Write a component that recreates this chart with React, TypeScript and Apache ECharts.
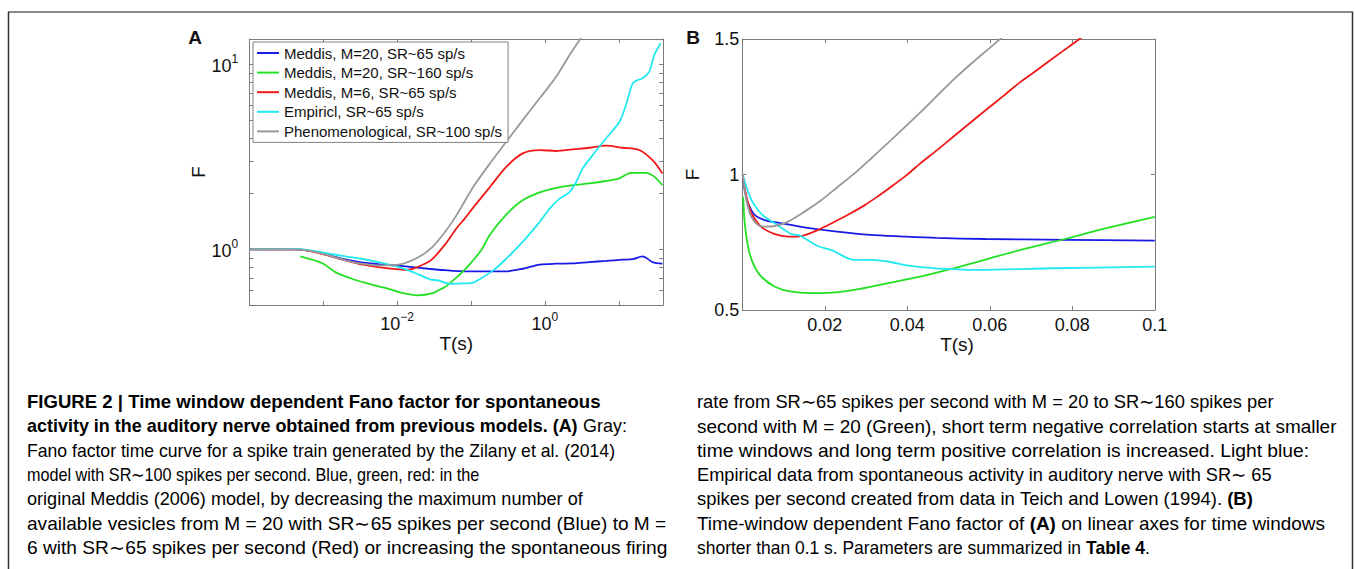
import React, { useEffect, useRef } from 'react';
import * as echarts from 'echarts';

const FONT = "'Liberation Sans', Arial, Helvetica, sans-serif";

const seriesNames = [
  'Meddis, M=20, SR~65 sp/s',
  'Meddis, M=20, SR~160 sp/s',
  'Meddis, M=6, SR~65 sp/s',
  'Empiricl, SR~65 sp/s',
  'Phenomenological, SR~100 sp/s',
];
const seriesColors = ['#1a1ae6', '#22e022', '#f01818', '#22e8f0', '#999999'];

// Panel A: [T (s), F] on log-log axes
const blueA = [[0.0001,1.0],[0.00042,1.0],[0.00071,0.977],[0.00132,0.918],[0.002,0.881],[0.0033,0.849],[0.0056,0.832],[0.0094,0.818],[0.0158,0.802],[0.0265,0.785],[0.0444,0.771],[0.0826,0.76],[0.18,0.759],[0.3,0.76],[0.5,0.785],[0.85,0.826],[1.42,0.836],[2.38,0.839],[4.0,0.853],[6.7,0.865],[11.2,0.879],[15.4,0.885],[20.9,0.916],[28.6,0.853],[38.9,0.836]];
const greenA = [[0.00049,0.916],[0.00096,0.843],[0.00146,0.753],[0.00245,0.693],[0.0041,0.652],[0.0069,0.618],[0.0116,0.581],[0.0194,0.564],[0.0294,0.577],[0.038,0.606],[0.0444,0.625],[0.0638,0.705],[0.078,0.76],[0.1,0.845],[0.14,1.0],[0.18,1.2],[0.3,1.54],[0.5,1.84],[0.85,2.03],[1.42,2.15],[2.38,2.22],[4.0,2.27],[6.7,2.34],[10.2,2.42],[14.6,2.59],[23.2,2.59],[30.1,2.47],[38.9,2.22]];
const redA = [[0.0001,1.0],[0.00042,1.0],[0.00071,0.973],[0.00132,0.912],[0.002,0.871],[0.0033,0.83],[0.0056,0.802],[0.0094,0.782],[0.0128,0.774],[0.0158,0.782],[0.0215,0.82],[0.0294,0.88],[0.0444,1.06],[0.0638,1.3],[0.0826,1.47],[0.107,1.68],[0.18,2.17],[0.3,2.79],[0.5,3.3],[0.85,3.44],[1.42,3.4],[2.38,3.47],[4.0,3.54],[6.7,3.63],[11.2,3.54],[18.9,3.44],[28.6,3.03],[38.9,2.57]];
const cyanA = [[0.0001,1.0],[0.00042,1.004],[0.00071,0.982],[0.0012,0.948],[0.002,0.916],[0.0033,0.889],[0.0056,0.853],[0.0094,0.81],[0.0142,0.77],[0.0194,0.732],[0.0279,0.688],[0.0361,0.679],[0.0444,0.661],[0.0546,0.65],[0.0826,0.654],[0.107,0.661],[0.146,0.708],[0.2,0.769],[0.3,0.889],[0.5,1.096],[0.85,1.406],[1.16,1.66],[1.58,1.88],[2.15,2.04],[2.65,2.31],[3.25,2.74],[4.44,3.23],[6.7,3.97],[10.2,4.89],[12.5,6.03],[15.4,7.89],[18,8.22],[20.9,8.4],[25.8,9.12],[30.1,11.2],[37,13.0]];
const grayA = [[0.0001,1.0],[0.00042,0.998],[0.00071,0.975],[0.00132,0.916],[0.002,0.871],[0.0033,0.836],[0.0056,0.818],[0.0094,0.822],[0.0128,0.843],[0.0194,0.905],[0.0294,1.02],[0.0444,1.24],[0.0638,1.53],[0.107,2.17],[0.18,2.91],[0.3,3.81],[0.5,4.99],[0.85,6.55],[1.42,8.57],[2.15,11.2],[3.55,15.1]];

// Panel B: [T (s), F] on linear axes
const blueB = [[0.0001,1.0],[0.0006,0.94],[0.0014,0.894],[0.003,0.851],[0.0054,0.832],[0.0095,0.82],[0.015,0.805],[0.023,0.789],[0.031,0.777],[0.039,0.771],[0.047,0.766],[0.059,0.762],[0.078,0.759],[0.1,0.756]];
const greenB = [[0.0002,0.918],[0.0006,0.82],[0.0014,0.734],[0.0026,0.672],[0.0046,0.623],[0.0079,0.586],[0.0119,0.568],[0.0192,0.562],[0.0272,0.574],[0.0353,0.599],[0.0431,0.623],[0.0512,0.654],[0.0592,0.687],[0.0673,0.721],[0.0782,0.762],[0.0875,0.799],[0.1,0.844]];
const redB = [[0.0001,1.0],[0.001,0.918],[0.0022,0.857],[0.0046,0.807],[0.0079,0.78],[0.0111,0.771],[0.0143,0.773],[0.0183,0.795],[0.0232,0.832],[0.0264,0.858],[0.0297,0.887],[0.0329,0.92],[0.0361,0.955],[0.0396,0.995],[0.0431,1.04],[0.0472,1.09],[0.0512,1.14],[0.0552,1.19],[0.0592,1.24],[0.0633,1.29],[0.0673,1.34],[0.0714,1.385],[0.0754,1.43],[0.0795,1.475],[0.0835,1.52],[0.088,1.57]];
const cyanB = [[0.0001,1.0],[0.001,0.955],[0.0022,0.906],[0.0038,0.869],[0.0054,0.844],[0.0079,0.82],[0.0103,0.795],[0.0119,0.78],[0.0135,0.777],[0.0151,0.765],[0.0183,0.736],[0.0216,0.721],[0.0272,0.685],[0.0313,0.685],[0.0353,0.679],[0.0394,0.666],[0.0434,0.658],[0.0474,0.653],[0.0576,0.648],[0.0754,0.654],[0.1,0.66]];
const grayB = [[0.0001,1.0],[0.001,0.906],[0.0022,0.844],[0.0038,0.814],[0.0054,0.808],[0.0079,0.81],[0.0111,0.826],[0.0151,0.863],[0.0192,0.906],[0.0232,0.955],[0.0272,1.004],[0.0313,1.06],[0.0352,1.115],[0.0392,1.172],[0.0431,1.228],[0.0472,1.29],[0.0512,1.35],[0.0552,1.405],[0.0592,1.457],[0.0625,1.5],[0.07,1.6]];

const seriesA = [blueA, greenA, redA, cyanA, grayA];
const seriesB = [blueB, greenB, redB, cyanB, grayB];

// Axes
const xRangeA = [0.0001, 40];
const yRangeA = [0.5, 13.7];
const xTicksA = [0.001, 0.01, 0.1, 1, 10];
const xLabelsA = [0.01, 1];
const yTicksA = [0.6, 0.7, 0.8, 0.9, 1, 2, 3, 4, 5, 6, 7, 8, 9, 10];
const yLabelsA = [1, 10];
const xRangeB = [0, 0.1];
const yRangeB = [0.5, 1.5];

const captionLeft = [
  '{b|FIGURE 2 | Time window dependent Fano factor for spontaneous}',
  '{b|activity in the auditory nerve obtained from previous models. (A)}{n| Gray:}',
  '{n|Fano factor time curve for a spike train generated by the }{l|Zilany et al. (2014)}',
  '{n|model with SR∼100 spikes per second. Blue, green, red: in the}',
  '{n|original }{l|Meddis (2006)}{n| model, by decreasing the maximum number of}',
  '{n|available vesicles from M = 20 with SR∼65 spikes per second (Blue) to M =}',
  '{n|6 with SR∼65 spikes per second (Red) or increasing the spontaneous firing}',
];
const captionRight = [
  '{n|rate from SR∼65 spikes per second with M = 20 to SR∼160 spikes per}',
  '{n|second with M = 20 (Green), short term negative correlation starts at smaller}',
  '{n|time windows and long term positive correlation is increased. Light blue:}',
  '{n|Empirical data from spontaneous activity in auditory nerve with SR∼ 65}',
  '{n|spikes per second created from data in }{l|Teich and Lowen (1994)}{n|. }{b|(B)}',
  '{n|Time-window dependent Fano factor of }{b|(A)}{n| on linear axes for time windows}',
  '{n|shorter than 0.1 s. Parameters are summarized in }{b|Table 4}{n|.}',
];
// right ends of caption lines in the reference (layout only)
const captionLeftEnds = [601, 627, 615, 480, 583, 666, 667];
const captionRightEnds = [1274, 1337, 1310, 1272, 1253, 1325, 1150];

const AXIS_COLOR = '#7a7a7a';
const TEXT_COLOR = '#111';
const CAP_SIZE = 18;

const powRich = {
  b: { fontSize: 18, fontFamily: FONT, color: TEXT_COLOR, lineHeight: 22, verticalAlign: 'bottom' },
  s: { fontSize: 12, fontFamily: FONT, color: TEXT_COLOR, verticalAlign: 'top' },
};
const powFmt = (v: number) => {
  const e = Math.round(Math.log10(v));
  return `{b|10}{s|${e < 0 ? '−' : ''}${Math.abs(e)}}`;
};

const capRich = {
  n: { fontSize: CAP_SIZE, fontFamily: FONT, color: '#231f20' },
  b: { fontSize: CAP_SIZE, fontFamily: FONT, color: '#231f20', fontWeight: 'bold' },
  l: { fontSize: CAP_SIZE, fontFamily: FONT, color: '#8a8a8a' },
};

function richWidth(text: string): number {
  const ctx = document.createElement('canvas').getContext('2d');
  if (!ctx) return 0;
  let w = 0;
  const re = /\{(\w+)\|([^}]*)\}/g;
  let m: RegExpExecArray | null;
  while ((m = re.exec(text))) {
    ctx.font = `${m[1] === 'b' ? 'bold ' : ''}${CAP_SIZE}px ${FONT}`;
    w += ctx.measureText(m[2]).width;
  }
  return w;
}

export default function App() {
  const ref = useRef<HTMLDivElement>(null);
  useEffect(() => {
    if (!ref.current) return;
    const chart = echarts.init(ref.current, null, { renderer: 'svg' });

    const boxAxis = (extra: any) => ({
      axisLine: { show: true, onZero: false, lineStyle: { color: AXIS_COLOR, width: 1 } },
      splitLine: { show: false },
      ...extra,
    });

    const xAxes = [
      boxAxis({
        type: 'log', logBase: 10, gridIndex: 0, position: 'bottom', min: xRangeA[0], max: xRangeA[1],
        axisTick: { inside: true, length: 4, lineStyle: { color: AXIS_COLOR }, customValues: xTicksA },
        axisLabel: { margin: 6, customValues: xLabelsA, formatter: powFmt, rich: powRich },
        name: 'T(s)', nameLocation: 'middle', nameGap: 27,
        nameTextStyle: { fontSize: 19, fontFamily: FONT, color: TEXT_COLOR },
      }),
      boxAxis({
        type: 'log', logBase: 10, gridIndex: 0, position: 'top', min: xRangeA[0], max: xRangeA[1],
        axisTick: { inside: true, length: 4, lineStyle: { color: AXIS_COLOR }, customValues: xTicksA },
        axisLabel: { show: false },
      }),
      boxAxis({
        type: 'value', gridIndex: 1, position: 'bottom', min: xRangeB[0], max: xRangeB[1], interval: 0.02,
        axisTick: { inside: true, length: 4, lineStyle: { color: AXIS_COLOR } },
        axisLabel: {
          margin: 6, fontSize: 18, fontFamily: FONT, color: TEXT_COLOR,
          formatter: (v: number) => (v === 0 ? '' : String(+v.toFixed(2))),
        },
        name: 'T(s)', nameLocation: 'middle', nameGap: 22,
        nameTextStyle: { fontSize: 19, fontFamily: FONT, color: TEXT_COLOR, padding: [0, 0, 0, 17] },
      }),
      boxAxis({
        type: 'value', gridIndex: 1, position: 'top', min: xRangeB[0], max: xRangeB[1], interval: 0.02,
        axisTick: { inside: true, length: 4, lineStyle: { color: AXIS_COLOR } },
        axisLabel: { show: false },
      }),
    ];

    const yAxes = [
      boxAxis({
        type: 'log', logBase: 10, gridIndex: 0, position: 'left', min: yRangeA[0], max: yRangeA[1],
        axisTick: { inside: true, length: 4, lineStyle: { color: AXIS_COLOR }, customValues: yTicksA },
        axisLabel: { margin: 11, customValues: yLabelsA, formatter: powFmt, rich: powRich },
        name: 'F', nameLocation: 'middle', nameGap: 40, nameRotate: 90,
        nameTextStyle: { fontSize: 19, fontFamily: FONT, color: TEXT_COLOR },
      }),
      boxAxis({
        type: 'log', logBase: 10, gridIndex: 0, position: 'right', min: yRangeA[0], max: yRangeA[1],
        axisTick: { inside: true, length: 4, lineStyle: { color: AXIS_COLOR }, customValues: yTicksA },
        axisLabel: { show: false },
      }),
      boxAxis({
        type: 'value', gridIndex: 1, position: 'left', min: yRangeB[0], max: yRangeB[1], interval: 0.5,
        axisTick: { inside: true, length: 4, lineStyle: { color: AXIS_COLOR } },
        axisLabel: { margin: 3, fontSize: 18, fontFamily: FONT, color: TEXT_COLOR },
        name: 'F', nameLocation: 'middle', nameGap: 40, nameRotate: 90,
        nameTextStyle: { fontSize: 19, fontFamily: FONT, color: TEXT_COLOR },
      }),
      boxAxis({
        type: 'value', gridIndex: 1, position: 'right', min: yRangeB[0], max: yRangeB[1], interval: 0.5,
        axisTick: { inside: true, length: 4, lineStyle: { color: AXIS_COLOR } },
        axisLabel: { show: false },
      }),
    ];

    const mk = (name: string, color: string, data: number[][], xi: number, yi: number) => ({
      type: 'line', name, data, xAxisIndex: xi, yAxisIndex: yi,
      showSymbol: false, symbol: 'none', smooth: 0.3, clip: true, silent: true,
      lineStyle: { color, width: 1.8 }, itemStyle: { color },
    });

    const series = [
      ...seriesA.map((d, i) => mk(seriesNames[i], seriesColors[i], d, 0, 0)),
      ...seriesB.map((d, i) => mk(seriesNames[i], seriesColors[i], d, 2, 2)),
    ];

    const graphics: any[] = [
      { type: 'line', shape: { x1: 8, y1: 12, x2: 1353, y2: 12 }, style: { stroke: '#8a8a8a', lineWidth: 2 } },
      { type: 'line', shape: { x1: 8.5, y1: 12, x2: 8.5, y2: 569 }, style: { stroke: '#333', lineWidth: 1.5 } },
      { type: 'line', shape: { x1: 1352.5, y1: 12, x2: 1352.5, y2: 569 }, style: { stroke: '#333', lineWidth: 1.5 } },
      { type: 'text', x: 195, y: 37, style: { text: 'A', font: `bold 19px ${FONT}`, fill: '#111', align: 'center', verticalAlign: 'middle' } },
      { type: 'text', x: 693, y: 37, style: { text: 'B', font: `bold 19px ${FONT}`, fill: '#111', align: 'center', verticalAlign: 'middle' } },
    ];
    const addCaption = (lines: string[], ends: number[], x0: number) => {
      lines.forEach((t, i) => {
        const w = richWidth(t);
        const sx = w > 0 ? Math.min(1.15, Math.max(0.85, (ends[i] - x0) / w)) : 1;
        graphics.push({
          type: 'text', x: x0, y: 402 + i * 24.3, scaleX: sx,
          style: { text: t, rich: capRich, align: 'left', verticalAlign: 'middle' },
        });
      });
    };
    addCaption(captionLeft, captionLeftEnds, 27);
    addCaption(captionRight, captionRightEnds, 697);

    chart.setOption({
      animation: false,
      backgroundColor: '#ffffff',
      textStyle: { fontFamily: FONT },
      grid: [
        { left: 249.3, top: 39, width: 414, height: 266, containLabel: false },
        { left: 742.3, top: 39, width: 412.5, height: 271, containLabel: false },
      ],
      legend: {
        data: seriesNames,
        left: 253, top: 42, orient: 'vertical',
        padding: [3, 6, 3, 4],
        itemGap: 3.6, itemWidth: 22, itemHeight: 2, icon: 'rect',
        backgroundColor: '#fff', borderColor: '#808080', borderWidth: 1, borderRadius: 0,
        textStyle: { fontSize: 15, fontFamily: FONT, color: TEXT_COLOR, lineHeight: 16 },
        selectedMode: false,
      },
      xAxis: xAxes,
      yAxis: yAxes,
      series,
      graphic: graphics,
    });
    return () => chart.dispose();
  }, []);

  return (
    <div
      ref={ref}
      style={{ position: 'fixed', left: 0, top: 0, width: 1355, height: 569, background: '#fff' }}
    />
  );
}
